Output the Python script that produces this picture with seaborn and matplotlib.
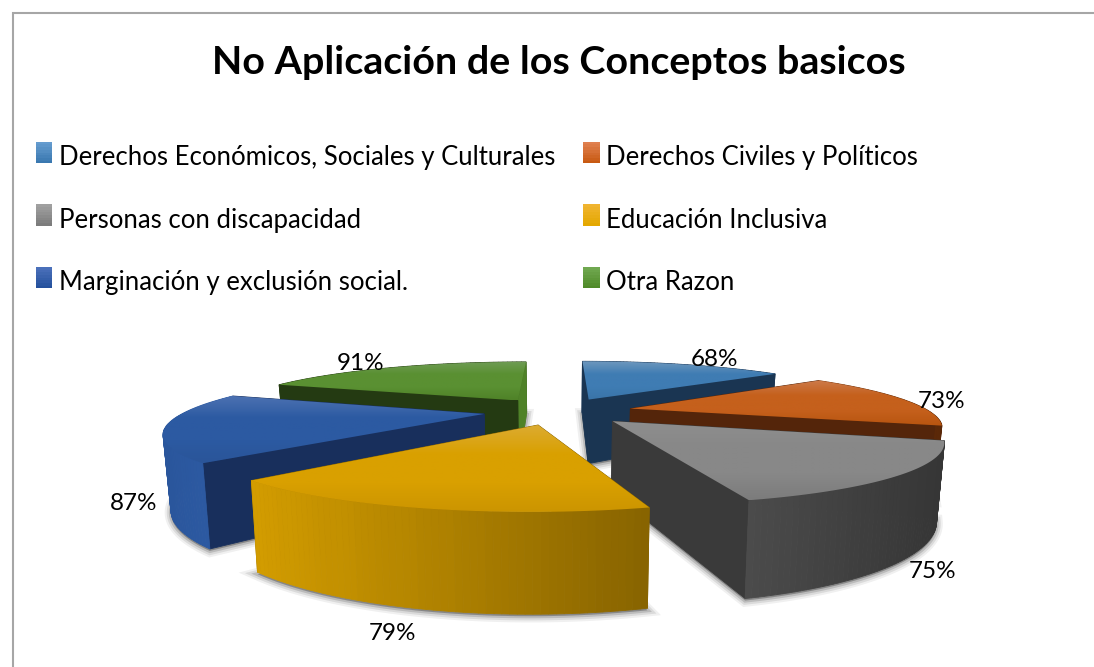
import numpy as np
import matplotlib
matplotlib.use("Agg")
import matplotlib.pyplot as plt
from matplotlib.patches import Polygon, Rectangle
from matplotlib.legend_handler import HandlerBase
import seaborn as sns

TITLE = "No Aplicación de los Conceptos basicos"
categories = ["Derechos Económicos, Sociales y Culturales", "Derechos Civiles y Políticos",
              "Personas con discapacidad", "Educación Inclusiva",
              "Marginación y exclusión social.", "Otra Razon"]
values = [68, 73, 75, 79, 87, 91]

# top face colours: highlight, middle, low end
top_colors = [["#6d97bd", "#3f7cb3", "#3a74a8"], ["#cc7a4a", "#c5601c", "#b85510"],
              ["#8e8e8e", "#888888", "#7c7c7c"], ["#dcab30", "#d9a000", "#cc9500"],
              ["#4d72b2", "#2c5aa2", "#2a5599"], ["#6f9c55", "#5a9032", "#4f8228"]]
# outer rim, left to right
rim_colors = [["#1d3a5a", "#1d3a5a"], ["#8a3f10", "#5a2808"],
              ["#4b4b4b", "#363636"], ["#d29c00", "#886400"],
              ["#2a569c", "#2e5ca6"], ["#2a4416", "#2a4416"]]
# radial walls at the start and the end of each slice
side_start = ["#1a3552", "#54250a", "#3a3a3a", "#8a6500", "#182f5c", "#243a12"]
side_end = ["#1a3552", "#54250a", "#3a3a3a", "#8a6500", "#182f5c", "#4f8228"]
legend_colors = [["#659ccf", "#3a78b0"], ["#e08050", "#c85a12"], ["#a0a0a0", "#7c7c7c"],
                 ["#f0b430", "#e4a800"], ["#4a70ba", "#24509c"], ["#70a850", "#4f8a28"]]
# label centres in picture pixels
label_pos = [(714, 359), (942, 401), (933, 572), (392, 634), (134, 503), (361, 364)]

# pie projection settings
CX, CY = 558, 411
RX, RY = 298, 54
PERSP = 0.27
EXPLODE = 0.25
DEPTH = 68


def project(u, v):
    w = 1 / (1 - PERSP * v)
    return CX + RX * u * w, CY + RY * v * w, w


def drop(x, y, w):
    return CX + (x - CX) * 0.98, y + DEPTH * w


def slice_geometry(a0, a1):
    mid = (a0 + a1) / 2
    du, dv = EXPLODE * np.sin(mid), -EXPLODE * np.cos(mid)
    th = np.linspace(a0, a1, 60)
    u = np.sin(th) + du
    v = -np.cos(th) + dv
    return (du, dv), u, v


sns.set_theme(style="white")
plt.rcParams["font.family"] = ["Lato", "DejaVu Sans"]

fig, ax = plt.subplots(figsize=(10.94, 6.67), dpi=100)
ax.set_position([0, 0, 1, 1])
ax.set_xlim(0, 1094)
ax.set_ylim(667, 0)
ax.axis("off")

# chart frame
ax.add_patch(Rectangle((12.5, 12.5), 1200, 700, fc="white", ec="#a6a6a6", lw=1.5, zorder=0))

vals = np.array(values, dtype=float)
edges = np.concatenate([[0], np.cumsum(vals)]) / vals.sum() * 2 * np.pi
order = sorted(range(len(vals)), key=lambda i: -np.cos((edges[i] + edges[i + 1]) / 2))

z = 1
for i in order:
    (du, dv), u, v = slice_geometry(edges[i], edges[i + 1])
    xt, yt, wt = project(u, v)
    xa, ya, wa = project(du, dv)
    xb, yb = drop(xt, yt, wt)
    xab, yab = drop(xa, ya, wa)

    # soft shadow under the slice
    sx = np.concatenate([[xab], xb])
    sy = np.concatenate([[yab], yb])
    for lw, alpha in [(9, 0.06), (6, 0.09), (3, 0.14)]:
        ax.fill(sx, sy + 2, color="black", alpha=alpha, lw=lw, zorder=z)
        z += 1

    # side walls, back ones first
    pieces = []
    for k, col in ((0, side_start[i]), (-1, side_end[i])):
        quad = ([xa, xt[k], xb[k], xab], [ya, yt[k], yb[k], yab])
        pieces.append(((v[k] + dv) / 2, quad, col))
    rim = sns.blend_palette(rim_colors[i], 64)
    x_lo, x_hi = xt.min(), xt.max()
    for k in range(len(xt) - 1):
        quad = ([xt[k], xt[k + 1], xb[k + 1], xb[k]], [yt[k], yt[k + 1], yb[k + 1], yb[k]])
        frac = ((xt[k] + xt[k + 1]) / 2 - x_lo) / max(x_hi - x_lo, 1)
        pieces.append(((v[k] + v[k + 1]) / 2, quad, rim[min(int(frac * 64), 63)]))
    for _, quad, col in sorted(pieces, key=lambda p: p[0]):
        ax.fill(quad[0], quad[1], color=col, lw=0.6, zorder=z)
        z += 1

    # top face with a vertical gradient
    top = np.column_stack([np.concatenate([[xa], xt]), np.concatenate([[ya], yt])])
    grad = sns.blend_palette([top_colors[i][0], top_colors[i][1], top_colors[i][1], top_colors[i][2]], 64)
    im = ax.imshow(np.array(grad)[:, None, :], aspect="auto", zorder=z,
                   extent=(top[:, 0].min(), top[:, 0].max(), top[:, 1].max(), top[:, 1].min()))
    clip = Polygon(top, closed=True, transform=ax.transData, fc="none", ec="none")
    ax.add_patch(clip)
    im.set_clip_path(clip)
    z += 1

ax.set_xlim(0, 1094)
ax.set_ylim(667, 0)

for pos, val in zip(label_pos, values):
    ax.text(pos[0], pos[1], f"{val}%", ha="center", va="center", fontsize=17.5, color="black", zorder=z)

ax.text(559, 62, TITLE, ha="center", va="center", fontsize=28.4, fontweight="bold", color="black", zorder=z)


class GradientHandle(HandlerBase):
    def create_artists(self, legend, orig, xd, yd, width, height, fontsize, trans):
        c = sns.blend_palette(orig.get_gid().split(","), 8)
        return [Rectangle((xd, yd + height * k / 8), width, height / 8 + 0.2, fc=c[7 - k], ec="none",
                          transform=trans) for k in range(8)]


# legend fills column by column, the reference reads row by row
handles = [Rectangle((0, 0), 1, 1, gid=",".join(c)) for c in legend_colors]
col_order = [0, 2, 4, 1, 3, 5]
leg = ax.legend([handles[k] for k in col_order], [categories[k] for k in col_order], ncol=2,
                loc="upper left", bbox_to_anchor=(36 / 1094, 1 - 145 / 667),
                frameon=False, fontsize=18.55, labelcolor="black", handler_map={Rectangle: GradientHandle()},
                handlelength=0.64, handleheight=0.9, handletextpad=0.24, labelspacing=1.46,
                columnspacing=1.1, borderpad=0, borderaxespad=0)
leg.set_zorder(z)

fig.savefig("out.png", dpi=100)
